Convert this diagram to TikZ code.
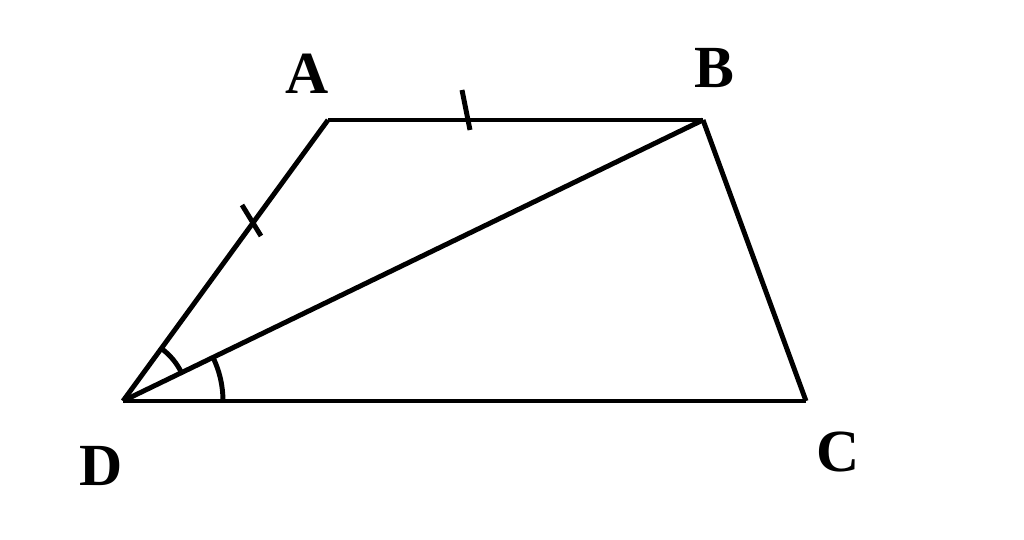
\documentclass[tikz,border=0pt]{standalone}
\usepackage{fontspec}
\setmainfont{Liberation Serif}
\tikzset{
  lbl/.style={font=\fontsize{17}{20}\selectfont\bfseries},
  edge/.style={line width=1.4pt, line join=round},
}
\begin{document}
\begin{tikzpicture}[x=0.01cm, y=0.01cm]
      \useasboundingbox (0,0) rectangle (1024,540);
      \coordinate (D) at (123,139);
      \coordinate (A) at (328,420);
      \coordinate (B) at (703,420);
      \coordinate (C) at (806,139);
      \draw
        (307,466) node[lbl] (la){A}
        (714,472) node[lbl] (lb){B}
        (838,88) node[lbl] (lc){C}
        (101,74) node[lbl] (ld){D};
      \begin{scope}[edge]
        \draw (D) to (A);
        \draw (A) to (B);
        \draw (B) to (C);
        \draw (C) to (D);
        \draw (D) to (B);
        % equal sides
        \draw (462,450) to (470,410);
        \draw (242,335) to (261,304);
        % equal angles
        \draw ([shift={(53.9:65)}]D) arc (53.9:25.85:65);
        \draw ([shift={(25.85:100)}]D) arc (25.85:0:100);
      \end{scope}
    \end{tikzpicture}
\end{document}
